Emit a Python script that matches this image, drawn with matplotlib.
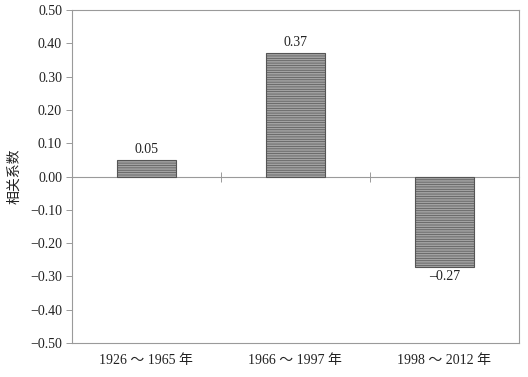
import numpy as np
import matplotlib
matplotlib.use('Agg')
import matplotlib.pyplot as plt

# data
periods = ['1926 \uff5e 1965 年', '1966 \uff5e 1997 年', '1998 \uff5e 2012 年']
corr = [0.05, 0.37, -0.27]
corr_labels = ['0.05', '0.37', '\u20130.27']
y_ticks = [-0.5, -0.4, -0.3, -0.2, -0.1, 0.0, 0.1, 0.2, 0.3, 0.4, 0.5]

LINE = '#9a9a9a'
TEXT = '#222222'
FONTS = ['Liberation Serif', 'Noto Sans CJK SC', 'DejaVu Sans']
plt.rcParams['font.family'] = FONTS
plt.rcParams['hatch.color'] = '#7c7c7c'
plt.rcParams['hatch.linewidth'] = 0.5

fig = plt.figure(figsize=(5.28, 3.77), dpi=100, facecolor='white')
ax = fig.add_axes([0.136, 0.090, 0.847, 0.883])

x = np.arange(len(periods))
bars = ax.bar(x, corr, width=0.4, color='#a2a2a2', edgecolor='#555555',
              linewidth=0.8, hatch='-------', zorder=3)

for xi, v, lab in zip(x, corr, corr_labels):
    off = 0.012 if v >= 0 else -0.012
    ax.text(xi, v + off, lab, ha='center', va='bottom' if v >= 0 else 'top',
            fontsize=10, color=TEXT)

ax.set_xlim(-0.5, len(periods) - 0.5)
ax.set_ylim(-0.5, 0.5)
ax.set_yticks(y_ticks)
ax.set_yticklabels([f'{t:.2f}'.replace('-', '\u2212') for t in y_ticks])
ax.set_xticks(x)
ax.set_xticklabels(periods)
ax.tick_params(axis='x', length=0, pad=8, labelsize=10, labelcolor=TEXT)
ax.tick_params(axis='y', direction='out', length=4, width=0.7, color=LINE,
               labelsize=10, labelcolor=TEXT, pad=3)
for sp in ax.spines.values():
    sp.set_color(LINE)
    sp.set_linewidth(0.8)

# zero line with tick marks at category boundaries
zero_ax = ax.secondary_xaxis(location=0.5)
zero_ax.set_xticks([0.5, 1.5])
zero_ax.set_xticklabels(['', ''])
zero_ax.tick_params(direction='inout', length=7, width=0.7, color=LINE)
for sp in zero_ax.spines.values():
    sp.set_color(LINE)
    sp.set_linewidth(0.8)

ax.set_ylabel('相关系数', fontsize=10, color=TEXT, labelpad=6)

plt.savefig('out.png', dpi=100, facecolor='white')
plt.close()
